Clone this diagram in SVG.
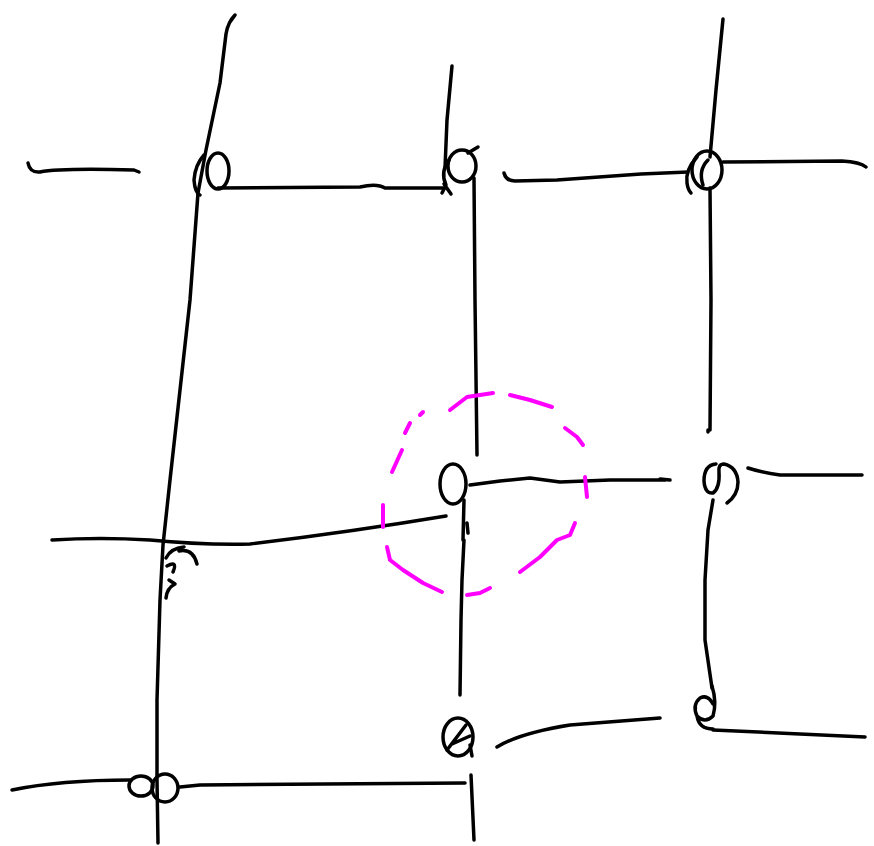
<svg xmlns="http://www.w3.org/2000/svg" width="874" height="846" viewBox="0 0 874 846">
<style>
.s{fill:none;stroke:#000;stroke-width:3.5;stroke-linecap:round;stroke-linejoin:round}
.m{fill:none;stroke:#f0f;stroke-width:4;stroke-linecap:round;stroke-linejoin:round}
</style>
<rect width="874" height="846" fill="#fff"/>
<g id="connectors">
<path class="s" d="M230,22 L235,15 Q228,22 226,34 L220,83 L206,150 L198,193 L190,300 L170,480 L163,545 L160,600 L157,700 L157,780 L158,843"/>
<path class="s" d="M28,163 Q30,173 40,172 Q60,168 134,170 L139,172"/>
<path class="s" d="M218,188 L360,187 Q377,183 385,188 L443,188"/>
<path class="s" d="M452,66 L447,120 L445,168"/>
<path class="s" d="M474,178 L475,300 L477,455"/>
<path class="s" d="M504,173 Q506,181 515,181 L557,180 L641,174 L688,172"/>
<path class="s" d="M723,162 L842,161 Q860,162 866,167"/>
<path class="s" d="M723,19 L716,90 L710,157"/>
<path class="s" d="M710,188 L711,300 L710,430"/>
<path class="s" d="M470,485 L500,481 L530,478 L560,482 L610,480 L665,480"/>
<path class="s" d="M748,468 Q760,472 780,475 L862,475"/>
<path class="s" d="M660,479 L670,480"/>
<path class="s" d="M52,540 Q100,537 150,540 Q200,545 250,544 Q350,532 446,516"/>
<path class="s" d="M464,500 L463,540 M467,523 L468,533 M464,540 L462,580 L461,620 L460,695"/>
<path class="s" d="M713,500 L708,530 L705,580 L705,640 L712,688"/>
<path class="s" d="M497,747 Q520,733 570,725 L660,718"/>
<path class="s" d="M713,730 L865,737"/>
<path class="s" d="M12,790 Q60,780 130,780"/>
<path class="s" d="M180,787 L200,785 L465,783"/>
<path class="s" d="M471,775 L474,840"/>
</g>
<g id="n1">
<ellipse class="s" cx="218" cy="171" rx="11" ry="18"/>
<path class="s" d="M204,155 Q195,165 194,180 Q195,193 200,195"/>
</g>
<g id="n2">
<ellipse class="s" cx="462" cy="166" rx="14" ry="16"/>
<path class="s" d="M478,147 L468,153 M449,160 Q440,172 446,185 L442,193 M444,184 L451,194"/>
</g>
<g id="n3">
<ellipse class="s" cx="707" cy="170" rx="15" ry="19"/>
<path class="s" d="M697,157 Q685,170 687,183 Q688,190 691,193 M708,160 Q698,170 703,185"/>
</g>
<g id="n4">
<ellipse class="s" cx="453" cy="484" rx="13" ry="20"/>
</g>
<g id="n5">
<path class="s" d="M716,464 Q704,465 704,481 Q705,494 713,493 Q720,488 719,472 Q718,464 724,464 Q737,467 738,482 Q738,495 727,503"/>
<path class="s" d="M708,430 L708,432"/>
</g>
<g id="n6">
<path class="s" d="M184,547 Q171,548 166,558 M179,551 Q193,548 197,564 M167,566 Q178,560 173,572 M169,580 L175,584 Q167,588 166,598"/>
</g>
<g id="n7">
<ellipse class="s" cx="458" cy="737" rx="15" ry="19"/>
<path class="s" d="M447,750 L466,725 M452,744 L470,736 M470,745 L472,756"/>
</g>
<g id="n8">
<path class="s" d="M712,686 Q717,702 713,716 Q705,724 697,716 Q692,705 700,698 Q708,694 713,704 M697,716 Q699,729 713,729"/>
</g>
<g id="n9">
<ellipse class="s" cx="141" cy="786" rx="12" ry="10"/>
<ellipse class="s" cx="165" cy="788" rx="13" ry="14"/>
</g>
<g id="highlight">
<path class="m" d="M450,410 L467,397 L493,393"/>
<path class="m" d="M510,395 L530,400 L552,407"/>
<path class="m" d="M565,428 L577,437 L583,445"/>
<path class="m" d="M585,477 L587,497"/>
<path class="m" d="M575,523 L570,535 L557,540 L540,557 L520,572"/>
<path class="m" d="M490,588 L480,593 L467,595"/>
<path class="m" d="M442,592 L423,583 L403,570 L390,560 L387,547"/>
<path class="m" d="M383,505 L383,527"/>
<path class="m" d="M392,472 L402,450"/>
<path class="m" d="M405,433 L410,423"/>
<path class="m" d="M420,415 L423,412"/>
</g>
</svg>
